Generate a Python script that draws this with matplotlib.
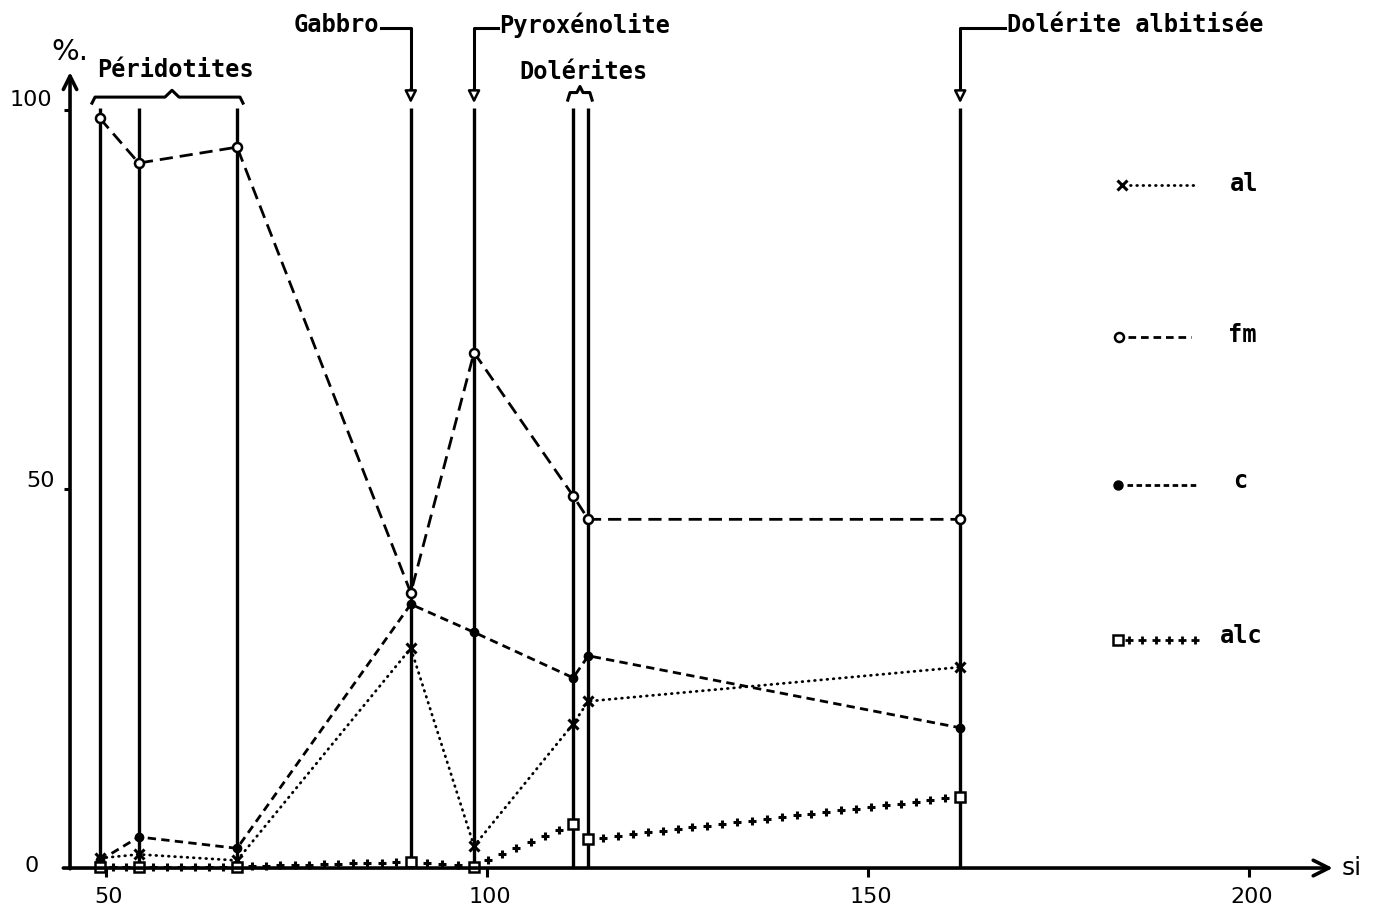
import numpy as np
import matplotlib
matplotlib.use("Agg")
import matplotlib.pyplot as plt

plt.rcParams["lines.scale_dashes"] = False

# Niggli values (si on the horizontal axis, al / fm / c / alc in %)
si = [49.2, 54.3, 67.2, 90.0, 98.3, 111.3, 113.3, 162.1]
al = [1.3, 1.8, 1.0, 29.0, 2.9, 19.0, 22.0, 26.5]
fm = [98.9, 93.0, 95.1, 36.3, 68.0, 49.1, 46.0, 46.0]
c = [1.0, 4.1, 2.6, 34.8, 31.1, 25.1, 28.0, 18.5]
alc = [0.2, 0.2, 0.2, 0.8, 0.2, 5.8, 3.8, 9.4]

x_ticks = [50, 100, 150, 200]
y_ticks = [0, 50, 100]
series_names = ["al", "fm", "c", "alc"]

MONO = dict(family="DejaVu Sans Mono", fontweight="bold")
SANS = dict(family="DejaVu Sans")

fig = plt.figure(figsize=(13.77, 9.17), dpi=100)
ax = fig.add_axes([0, 0, 1, 1])
ax.set_xlim(36.09, 216.80)
ax.set_ylim(-6.46, 114.51)
ax.axis("off")

K = "black"

# axes with arrow heads
ax.annotate("", xy=(211.0, 0), xytext=(44.4, 0),
            arrowprops=dict(arrowstyle="->", lw=2.6, color=K,
                            mutation_scale=28, shrinkA=0, shrinkB=0))
ax.annotate("", xy=(45.28, 105.0), xytext=(45.28, -0.1),
            arrowprops=dict(arrowstyle="->", lw=2.6, color=K,
                            mutation_scale=24, shrinkA=0, shrinkB=0))
ax.vlines(x_ticks, -1.2, 0, color=K, lw=2.2)
ax.hlines(y_ticks[1:], 44.5, 45.28, color=K, lw=2.2)
for xt in x_ticks:
    ax.text(xt + 0.4, -3.8, str(xt), ha="center", va="center", fontsize=16, **SANS)
ax.text(40.2, 101.3, "100", ha="center", va="center", fontsize=16, **SANS)
ax.text(41.4, 51.1, "50", ha="center", va="center", fontsize=16, **SANS)
ax.text(40.2, 0.3, "0", ha="center", va="center", fontsize=16, **SANS)
ax.text(45.3, 107.6, "%.", ha="center", va="center", fontsize=21, **SANS)
ax.text(212.2, 0.0, "si", ha="left", va="center", fontsize=18, **SANS)

# sample verticals
ax.vlines(si, 0, 100.3, color=K, lw=2.4)

# rock-type labels
ax.plot([48.16, 48.56, 57.74, 58.66, 59.58, 67.59, 67.98],
        [100.9, 101.7, 101.7, 102.6, 101.7, 101.7, 100.9], color=K, lw=2.2)
ax.text(59.1, 105.3, "Péridotites", ha="center", va="center", fontsize=17, **MONO)

ax.plot([110.6, 110.9, 111.8, 112.2, 112.6, 113.5, 113.8],
        [101.3, 102.3, 102.3, 103.1, 102.3, 102.3, 101.3], color=K, lw=2.2)
ax.text(112.6, 105.0, "Dolérites", ha="center", va="center", fontsize=17, **MONO)


def elbow_arrow(x_line, x_text, text, ha):
    ax.plot([x_text, x_line, x_line], [110.8, 110.8, 102.6], color=K, lw=2.2)
    ax.annotate("", xy=(x_line, 100.9), xytext=(x_line, 102.8),
                arrowprops=dict(arrowstyle="-|>", lw=1.8, color=K, fc="white",
                                mutation_scale=18, shrinkA=0, shrinkB=0))
    off = 0.2 if ha == "left" else -0.2
    ax.text(x_text + off, 111.2, text, ha=ha, va="center", fontsize=17, **MONO)


elbow_arrow(si[3], 86.1, "Gabbro", "right")
elbow_arrow(si[4], 101.4, "Pyroxénolite", "left")
elbow_arrow(si[7], 168.0, "Dolérite albitisée", "left")


def plus_trail(xs, ys, step_px, ends=False):
    """Positions of '+' signs spaced along a polyline (for the alc line style)."""
    pts = ax.transData.transform(np.column_stack([xs, ys]))
    out = []
    for p0, p1 in zip(pts[:-1], pts[1:]):
        length = np.hypot(*(p1 - p0))
        n = max(int(round(length / step_px)), 1)
        t = np.arange(0 if ends else 1, n + (1 if ends else 0)) / n
        if len(t):
            out.append(p0 + np.outer(t, p1 - p0))
    if not out:
        return np.empty(0), np.empty(0)
    xy = ax.transData.inverted().transform(np.vstack(out))
    return xy[:, 0], xy[:, 1]


# series
style_al = dict(color=K, lw=2.0, dashes=(0.5, 4.0), dash_capstyle="round")
style_fm = dict(color=K, lw=2.0, dashes=(9.5, 5.0))
style_c = dict(color=K, lw=2.0, dashes=(6.0, 3.8))

ax.plot(si, fm, **style_fm)
ax.plot(si, c, **style_c)
ax.plot(si, al, **style_al)
px_, py_ = plus_trail(si, alc, 15)
ax.plot(px_, py_, "+", color=K, ms=6, mew=2.2, ls="none")

ax.plot(si, fm, "o", color=K, mfc="white", mew=1.8, ms=6.5, ls="none")
ax.plot(si, c, "o", color=K, ms=6.0, ls="none")
ax.plot(si, al, "x", color=K, mew=2.2, ms=7, ls="none")
ax.plot(si, alc, "s", color=K, mfc="white", mew=1.8, ms=6.5, ls="none")

# key
key_y = {"al": 90.1, "fm": 70.05, "c": 50.5, "alc": 30.1}
ax.plot([184.4, 193.3], [key_y["al"]] * 2, **style_al)
ax.plot([183.3], [key_y["al"]], "x", color=K, mew=2.2, ms=7)
ax.text(197.5, 90.3, "al", ha="left", va="center", fontsize=17, **MONO)

ax.plot([184.1, 192.4], [key_y["fm"]] * 2, color=K, lw=2.0, dashes=(5.5, 3.5))
ax.plot([183.0], [key_y["fm"]], "o", color=K, mfc="white", mew=1.8, ms=6.5)
ax.text(197.2, 70.3, "fm", ha="left", va="center", fontsize=17, **MONO)

ax.plot([184.0, 193.2], [key_y["c"]] * 2, color=K, lw=2.0, dashes=(4.0, 2.5))
ax.plot([182.8], [key_y["c"]], "o", color=K, ms=6.5)
ax.text(197.9, 51.1, "c", ha="left", va="center", fontsize=17, **MONO)

kx, ky = plus_trail([184.3, 192.9], [key_y["alc"]] * 2, 13, ends=True)
ax.plot(kx, ky, "+", color=K, ms=5.5, mew=2.0, ls="none")
ax.plot([182.8], [key_y["alc"]], "s", color=K, mfc="white", mew=1.8, ms=6.5)
ax.text(196.2, 30.6, "alc", ha="left", va="center", fontsize=17, **MONO)

fig.savefig("out.png", dpi=100, facecolor="white")
